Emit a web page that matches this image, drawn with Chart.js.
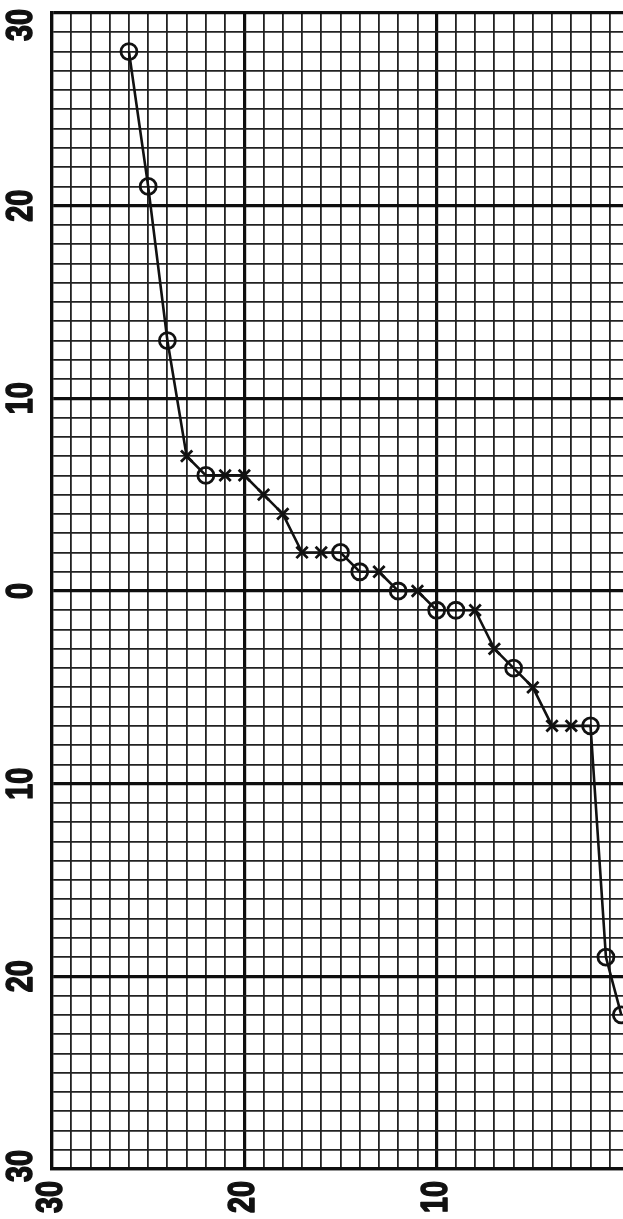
<!DOCTYPE html>
<html>
<head>
<meta charset="utf-8">
<script src="https://cdn.jsdelivr.net/npm/chart.js@4"></script>
<style>
html, body { margin: 0; padding: 0; background: #fff; overflow: hidden; }
#wrap { width: 640px; height: 1219px; }
</style>
</head>
<body>
<div id="wrap"><canvas id="c" width="640" height="1219"></canvas></div>
<script>
// readings off the graph paper (x runs right-to-left, 30 -> 0)
const xVals = [26, 25, 24, 23, 22, 21, 20, 19, 18, 17, 16, 15, 14, 13, 12, 11, 10, 9, 8, 7, 6, 5, 4, 3, 2, 1.2, 0.4];
const yVals = [28, 21, 13, 7, 6, 6, 6, 5, 4, 2, 2, 2, 1, 1, 0, 0, -1, -1, -1, -3, -4, -5, -7, -7, -7, -19, -22];
// o = ringed point, x = cross
const marks = ['o', 'o', 'o', 'x', 'o', 'x', 'x', 'x', 'x', 'x', 'x', 'o', 'o', 'x', 'o', 'x', 'o', 'o', 'x', 'x', 'o', 'x', 'x', 'x', 'o', 'o', 'o'];

const yTickValues = [30, 20, 10, 0, -10, -20, -30];
const yTickLabels = ['30', '20', '10', '0', '10', '20', '30'];
const xTickValues = [30, 20, 10];
const xTickLabels = ['30', '20', '10'];

const INK = '#111';

function drawRot(ctx, text, x, y, align) {
  ctx.save();
  ctx.translate(x, y);
  ctx.rotate(-Math.PI / 2);
  ctx.scale(0.8, 1);
  ctx.textAlign = align;
  ctx.textBaseline = 'middle';
  ctx.fillText(text, 0, 0);
  ctx.strokeText(text, 0, 0);
  ctx.restore();
}

// sideways tick numbers, as on the scanned sheet
const tickLabels = {
  id: 'tickLabels',
  afterDraw(chart) {
    const ctx = chart.ctx;
    const sx = chart.scales.x, sy = chart.scales.y;
    ctx.save();
    ctx.fillStyle = INK;
    ctx.strokeStyle = INK;
    ctx.lineWidth = 1.6;
    ctx.lineJoin = 'round';
    ctx.font = 'bold 36px "Liberation Sans", Arial, sans-serif';
    yTickValues.forEach((v, i) => {
      let py = sy.getPixelForValue(v);
      py = Math.min(Math.max(py, 25), 1166);
      drawRot(ctx, yTickLabels[i], 22, py, 'center');
    });
    xTickValues.forEach((v, i) => {
      drawRot(ctx, xTickLabels[i], sx.getPixelForValue(v), 1181, 'right');
    });
    ctx.restore();
  }
};

const gridOpts = {
  drawTicks: false,
  color: c => (c.tick && c.tick.value % 10 === 0) ? '#0e0e0e' : '#222',
  lineWidth: c => (c.tick && c.tick.value % 10 === 0) ? 3.2 : 1.8,
};

new Chart(document.getElementById('c'), {
  type: 'line',
  data: {
    datasets: [{
      data: xVals.map((x, i) => ({ x: x, y: yVals[i] })),
      borderColor: INK,
      borderWidth: 2.6,
      tension: 0,
      pointStyle: marks.map(m => m === 'o' ? 'circle' : 'crossRot'),
      pointRadius: 8,
      pointBorderWidth: 2.8,
      pointBorderColor: INK,
      pointBackgroundColor: 'rgba(0,0,0,0)',
      clip: false,
    }]
  },
  options: {
    responsive: false,
    animation: false,
    devicePixelRatio: 1,
    layout: { padding: { left: 52, right: 11, top: 13, bottom: 50 } },
    plugins: { legend: { display: false }, tooltip: { enabled: false } },
    scales: {
      x: {
        type: 'linear', reverse: true, min: 0, max: 30,
        ticks: { display: false, stepSize: 1, maxTicksLimit: 100 },
        grid: gridOpts,
        border: { display: true, width: 3.2, color: '#0e0e0e' },
      },
      y: {
        type: 'linear', min: -30, max: 30,
        ticks: { display: false, stepSize: 1, maxTicksLimit: 100 },
        grid: gridOpts,
        border: { display: true, width: 3.2, color: '#0e0e0e' },
      }
    }
  },
  plugins: [tickLabels]
});
</script>
</body>
</html>
